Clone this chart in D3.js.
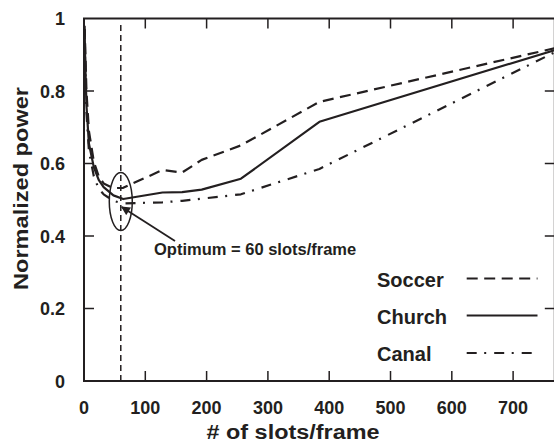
<!DOCTYPE html>
<html><head><meta charset="utf-8">
<script src="https://cdn.jsdelivr.net/npm/d3@7"></script>
<style>body{margin:0;background:#fff}svg{display:block}text{font-family:"Liberation Sans",Arial,sans-serif;font-weight:bold;fill:#231f20}</style>
</head><body>
<script>
const slots = [1, 2, 4, 8, 16, 24, 32, 48, 64, 128, 160, 192, 256, 384, 768];
const soccer = [0.98, 0.92, 0.80, 0.69, 0.605, 0.565, 0.545, 0.532, 0.533, 0.582, 0.575, 0.61, 0.65, 0.77, 0.918];
const church = [0.97, 0.88, 0.76, 0.655, 0.59, 0.555, 0.535, 0.512, 0.502, 0.52, 0.521, 0.528, 0.558, 0.715, 0.913];
const canal  = [0.97, 0.87, 0.74, 0.635, 0.565, 0.53, 0.515, 0.497, 0.49, 0.493, 0.497, 0.503, 0.515, 0.585, 0.907];
const seriesNames = ["Soccer", "Church", "Canal"];
const xTicks = [0, 100, 200, 300, 400, 500, 600, 700];
const yTicks = [0, 0.2, 0.4, 0.6, 0.8, 1];
const yTickLabels = ["0", "0.2", "0.4", "0.6", "0.8", "1"];
const optimum = 60;
const annotation = "Optimum = 60 slots/frame";

const W = 554, H = 443;
const svg = d3.select("body").append("svg").attr("width", W).attr("height", H);
const x = d3.scaleLinear().domain([0, 768]).range([84, 554.8]);
const y = d3.scaleLinear().domain([0, 1]).range([381, 18.5]);
const ink = "#231f20";
const dashes = ["11,6.5", null, "10,7.5,2,8"];

// frame
svg.append("rect").attr("x", x(0)).attr("y", y(1)).attr("width", x(768) - x(0)).attr("height", y(0) - y(1))
  .attr("fill", "none").attr("stroke", ink).attr("stroke-width", 2);

// ticks (inward, all sides)
const tl = 10;
xTicks.filter(d => d > 0).forEach(d => {
  svg.append("line").attr("x1", x(d)).attr("x2", x(d)).attr("y1", y(0)).attr("y2", y(0) - tl).attr("stroke", ink).attr("stroke-width", 1.5);
  svg.append("line").attr("x1", x(d)).attr("x2", x(d)).attr("y1", y(1)).attr("y2", y(1) + tl).attr("stroke", ink).attr("stroke-width", 1.5);
});
yTicks.filter(d => d > 0 && d < 1).forEach(d => {
  svg.append("line").attr("x1", x(0)).attr("x2", x(0) + tl).attr("y1", y(d)).attr("y2", y(d)).attr("stroke", ink).attr("stroke-width", 1.5);
  svg.append("line").attr("x1", x(768)).attr("x2", x(768) - tl).attr("y1", y(d)).attr("y2", y(d)).attr("stroke", ink).attr("stroke-width", 1.5);
});
// tick labels
xTicks.forEach(d => {
  svg.append("text").attr("x", x(d)).attr("y", 413.5).attr("text-anchor", "middle").attr("font-size", 18).text(d);
});
yTicks.forEach((d, i) => {
  svg.append("text").attr("x", 65).attr("y", y(d) + 6.5).attr("text-anchor", "end").attr("font-size", 18).text(yTickLabels[i]);
});
// axis titles
svg.append("text").attr("x", 293).attr("y", 438.5).attr("text-anchor", "middle").attr("font-size", 20)
  .attr("textLength", 173).attr("lengthAdjust", "spacingAndGlyphs").text("# of slots/frame");
svg.append("text").attr("transform", "translate(28,188.5) rotate(-90)").attr("text-anchor", "middle").attr("font-size", 21)
  .attr("textLength", 203).attr("lengthAdjust", "spacingAndGlyphs").text("Normalized power");

// optimum marker line
svg.append("line").attr("x1", x(optimum)).attr("x2", x(optimum)).attr("y1", 25).attr("y2", y(0))
  .attr("stroke", ink).attr("stroke-width", 1.5).attr("stroke-dasharray", "6,4");

// series
const line = d3.line().x((d, i) => x(slots[i])).y(d => y(d));
[soccer, church, canal].forEach((s, k) => {
  const p = svg.append("path").attr("d", line(s)).attr("fill", "none").attr("stroke", ink)
    .attr("stroke-width", 2.2).attr("stroke-linejoin", "round");
  if (dashes[k]) p.attr("stroke-dasharray", dashes[k]);
});

// ellipse + arrow annotation
svg.append("ellipse").attr("cx", x(optimum)).attr("cy", y(0.495)).attr("rx", 11.5).attr("ry", 29)
  .attr("fill", "none").attr("stroke", ink).attr("stroke-width", 1.5);
svg.append("defs").append("marker").attr("id", "ah").attr("viewBox", "0 0 10 10").attr("refX", 9).attr("refY", 5)
  .attr("markerWidth", 11).attr("markerHeight", 9).attr("markerUnits", "userSpaceOnUse").attr("orient", "auto")
  .append("path").attr("d", "M0,0 L10,5 L0,10 Z").attr("fill", ink);
svg.append("line").attr("x1", 175).attr("y1", 241).attr("x2", x(optimum) + 1).attr("y2", y(0.48))
  .attr("stroke", ink).attr("stroke-width", 1.8).attr("marker-end", "url(#ah)");
svg.append("text").attr("x", 154).attr("y", 255).attr("font-size", 16.5).text(annotation);

// legend
const legY = [278.5, 315.5, 353];
seriesNames.forEach((n, k) => {
  svg.append("text").attr("x", 377).attr("y", legY[k] + 3).attr("font-size", 20)
    .attr("dominant-baseline", "middle").text(n);
  const l = svg.append("line").attr("x1", 466.7).attr("x2", 537.5).attr("y1", legY[k]).attr("y2", legY[k])
    .attr("stroke", ink).attr("stroke-width", 2.2);
  if (dashes[k]) l.attr("stroke-dasharray", dashes[k]);
});
</script>
</body></html>
